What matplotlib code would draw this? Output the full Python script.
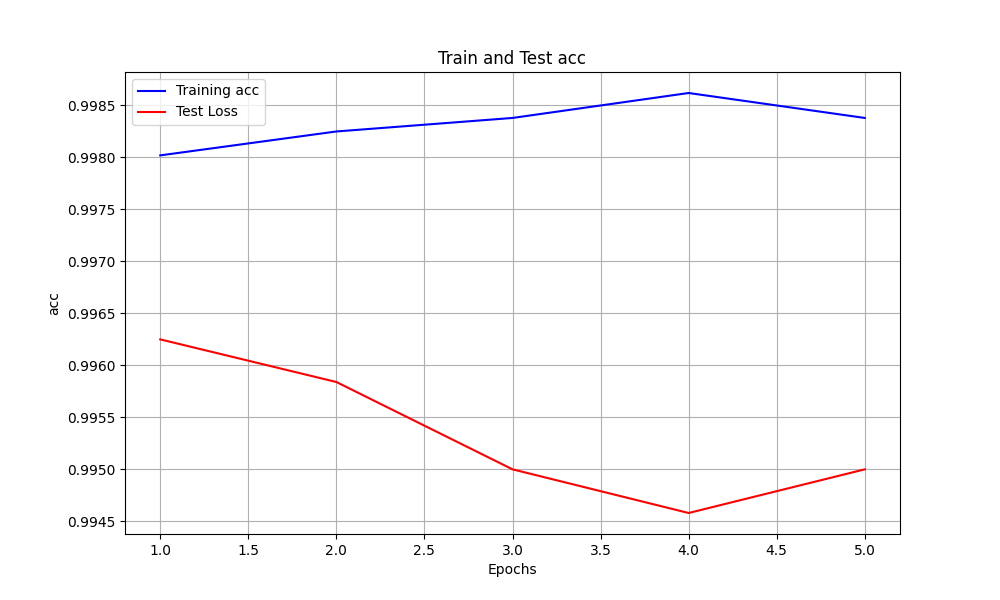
import matplotlib
matplotlib.use('Agg')
import matplotlib.pyplot as plt

## 数据
epochs = [1, 2, 3, 4, 5]
train_acc = [0.99802, 0.99825, 0.99838, 0.99862, 0.99838]
test_acc = [0.99625, 0.99584, 0.9950, 0.99458, 0.9950]

fig, ax = plt.subplots(figsize=(10, 6), dpi=100)
ax.plot(epochs, train_acc, 'b', label='Training acc')
ax.plot(epochs, test_acc, 'r', label='Test Loss')
ax.set_title('Train and Test acc')
ax.set_xlabel('Epochs')
ax.set_ylabel('acc')
ax.legend(loc='upper left')
ax.grid(True)
fig.savefig('out.png')
